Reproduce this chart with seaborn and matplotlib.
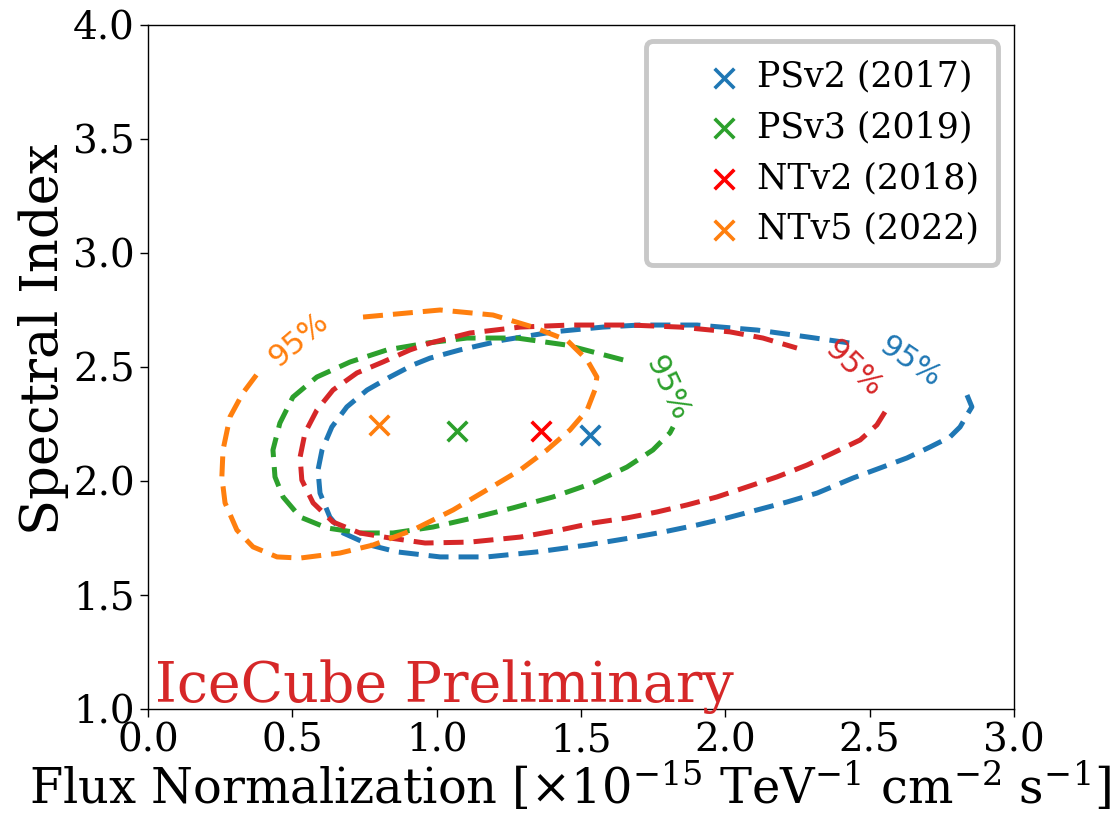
import matplotlib
matplotlib.use("Agg")
import matplotlib.pyplot as plt
import pandas as pd
import seaborn as sns

# Best-fit points: (flux normalization, spectral index)
samples = ["PSv2 (2017)", "PSv3 (2019)", "NTv2 (2018)", "NTv5 (2022)"]
best_flux = [1.53, 1.07, 1.36, 0.80]
best_index = [2.20, 2.22, 2.22, 2.245]

# 95% contours (open traces; the gap in each holds its label)
psv2_flux = [2.837, 2.854, 2.841, 2.813, 2.778, 2.709, 2.629, 2.536, 2.442, 2.318,
             2.214, 2.110, 2.006, 1.902, 1.784, 1.670, 1.521, 1.348, 1.174, 1.012,
             0.863, 0.769, 0.676, 0.630, 0.596, 0.589, 0.603, 0.637, 0.689, 0.759,
             0.838, 0.918, 0.977, 1.081, 1.230, 1.403, 1.576, 1.704, 1.902, 2.110,
             2.283, 2.432]
psv2_index = [2.377, 2.325, 2.298, 2.237, 2.193, 2.149, 2.101, 2.057, 2.013, 1.947,
              1.908, 1.873, 1.838, 1.807, 1.776, 1.750, 1.719, 1.689, 1.667, 1.667,
              1.689, 1.719, 1.772, 1.842, 1.947, 2.048, 2.136, 2.237, 2.325, 2.399,
              2.456, 2.509, 2.539, 2.575, 2.618, 2.654, 2.675, 2.684, 2.684, 2.662,
              2.632, 2.605]

psv3_flux = [1.646, 1.451, 1.278, 1.105, 0.967, 0.828, 0.700, 0.585, 0.502, 0.457,
             0.433, 0.440, 0.468, 0.527, 0.620, 0.734, 0.849, 0.987, 1.126, 1.264,
             1.403, 1.542, 1.659, 1.749, 1.808, 1.819]
psv3_index = [2.531, 2.596, 2.627, 2.627, 2.605, 2.575, 2.522, 2.456, 2.368, 2.254,
              2.136, 2.018, 1.930, 1.842, 1.794, 1.772, 1.772, 1.798, 1.838, 1.882,
              1.930, 1.991, 2.061, 2.136, 2.211, 2.237]

ntv2_flux = [2.553, 2.525, 2.467, 2.373, 2.283, 2.179, 2.075, 1.971, 1.867, 1.763,
             1.659, 1.542, 1.427, 1.289, 1.115, 0.960, 0.838, 0.734, 0.641, 0.572,
             0.533, 0.527, 0.544, 0.585, 0.641, 0.724, 0.814, 0.908, 0.977, 1.115,
             1.289, 1.462, 1.670, 1.843, 2.016, 2.130, 2.248]
ntv2_index = [2.303, 2.246, 2.180, 2.123, 2.070, 2.018, 1.974, 1.930, 1.895, 1.864,
              1.838, 1.816, 1.785, 1.754, 1.732, 1.728, 1.750, 1.772, 1.820, 1.904,
              2.004, 2.105, 2.211, 2.311, 2.399, 2.474, 2.522, 2.575, 2.605, 2.649,
              2.675, 2.684, 2.684, 2.675, 2.654, 2.627, 2.583]

ntv5_flux = [0.745, 1.012, 1.195, 1.334, 1.451, 1.521, 1.555, 1.548, 1.521, 1.462,
             1.382, 1.289, 1.174, 1.057, 0.918, 0.779, 0.665, 0.527, 0.447, 0.364,
             0.308, 0.267, 0.256, 0.260, 0.284, 0.329, 0.381]
ntv5_index = [2.719, 2.750, 2.728, 2.675, 2.618, 2.531, 2.456, 2.399, 2.311, 2.224,
              2.136, 2.048, 1.961, 1.873, 1.785, 1.719, 1.684, 1.662, 1.667, 1.711,
              1.785, 1.904, 2.018, 2.136, 2.281, 2.386, 2.474]

x_ticks = [0.0, 0.5, 1.0, 1.5, 2.0, 2.5, 3.0]
y_ticks = [1.0, 1.5, 2.0, 2.5, 3.0, 3.5, 4.0]

BLUE, GREEN, RED, ORANGE = "#1f77b4", "#2ca02c", "#d62728", "#ff7f0e"
marker_colors = [BLUE, GREEN, "#ff0000", ORANGE]

sns.set_style("ticks")
plt.rcParams["font.family"] = ["DejaVu Serif"]
plt.rcParams["mathtext.fontset"] = "dejavuserif"
for key in ("text.color", "axes.labelcolor", "xtick.color", "ytick.color",
            "axes.edgecolor"):
    plt.rcParams[key] = "black"

fig = plt.figure(figsize=(11.2, 8.14), dpi=100)
ax = fig.add_axes([0.1321, 0.1290, 0.7733, 0.8403])

contours = [
    (psv2_flux, psv2_index, BLUE),
    (psv3_flux, psv3_index, GREEN),
    (ntv2_flux, ntv2_index, RED),
    (ntv5_flux, ntv5_index, ORANGE),
]
for fx, gy, col in contours:
    df = pd.DataFrame({"flux": fx, "index": gy})
    sns.lineplot(data=df, x="flux", y="index", sort=False, estimator=None,
                 color=col, lw=3.6, ax=ax)
    line = ax.lines[-1]
    line.set_dashes((4.0, 2.0))
    line.set_dash_capstyle("butt")
    line.set_solid_joinstyle("round")

# contour level labels
label_specs = [
    (0.520, 2.618, 40, ORANGE),
    (1.798, 2.408, -65, GREEN),
    (2.442, 2.496, -44, RED),
    (2.640, 2.522, -34, BLUE),
]
for lx, ly, rot, col in label_specs:
    ax.text(lx, ly, "95%", color=col, rotation=rot, fontsize=22,
            family="DejaVu Sans", ha="center", va="center",
            rotation_mode="anchor")

for name, fx, gy, col in zip(samples, best_flux, best_index, marker_colors):
    sns.scatterplot(x=[fx], y=[gy], marker="x", color=col, s=200,
                    linewidth=2.6, label=name, ax=ax)

ax.text(0.025, 1.03, "IceCube Preliminary", color=RED, fontsize=40,
        ha="left", va="baseline")

ax.set_xlim(0.0, 3.0)
ax.set_ylim(1.0, 4.0)
ax.set_xticks(x_ticks)
ax.set_yticks(y_ticks)
ax.tick_params(labelsize=28, length=6, width=1.0, direction="out")
for s in ax.spines.values():
    s.set_visible(True)
    s.set_color("black")
    s.set_linewidth(1.0)

ax.set_xlabel(r"Flux Normalization [$\times$10$^{-15}$ TeV$^{-1}$ cm$^{-2}$ s$^{-1}$]",
              fontsize=34.5)
ax.set_ylabel("Spectral Index", fontsize=38)
ax.xaxis.set_label_coords(0.487, -0.075)
ax.yaxis.set_label_coords(-0.091, 0.54)

leg = ax.legend(loc="upper right", fontsize=25, frameon=True, fancybox=True,
                borderpad=0.55, handlelength=3.4, handletextpad=-0.75,
                labelspacing=0.48, scatterpoints=1, framealpha=1.0,
                borderaxespad=0.45)
leg.get_frame().set_edgecolor("#c8c8c8")
leg.get_frame().set_linewidth(3.5)

fig.savefig("out.png", dpi=100)
